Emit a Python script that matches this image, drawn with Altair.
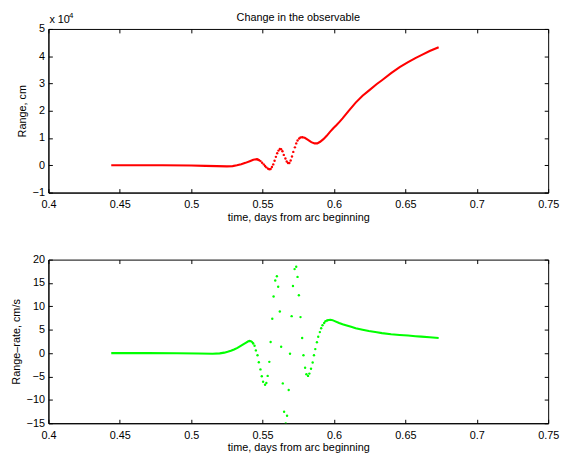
import altair as alt
import pandas as pd

FONT = "Liberation Sans"

TITLE = "Change in the observable"
X_TITLE = "time, days from arc beginning"
TOP_Y_TITLE = "Range, cm"
BOT_Y_TITLE = "Range\u2013rate, cm/s"
EXP_BASE = "x 10"
EXP_POWER = "4"

X_TICKS = [0.4, 0.45, 0.5, 0.55, 0.6, 0.65, 0.7, 0.75]
TOP_Y_TICKS = [-1, 0, 1, 2, 3, 4, 5]
BOT_Y_TICKS = [-15, -10, -5, 0, 5, 10, 15, 20]

# ---- Range (units of 10^4 cm) ----
TOP_PRE_T = [0.4440, 0.4600, 0.4800, 0.5000, 0.5100, 0.5180, 0.5250, 0.5290, 0.5320, 0.5350,
             0.5380, 0.5410, 0.5435, 0.5458, 0.54667]
TOP_PRE_V = [0.00, 0.00, 0.00, -0.01, -0.02, -0.03, -0.04, -0.03, 0.00, 0.04,
             0.09, 0.15, 0.20, 0.226, 0.214]

TOP_DOT_T = [0.54667, 0.54759, 0.54851, 0.54966, 0.55080, 0.55172, 0.55264, 0.55379, 0.55471, 0.55563,
             0.55655, 0.55747, 0.55839, 0.55931, 0.56023, 0.56115, 0.56207, 0.56299, 0.56391, 0.56483,
             0.56598, 0.56690, 0.56782, 0.56874, 0.56966, 0.57058, 0.57150, 0.57264, 0.57356, 0.57448,
             0.57563, 0.57655, 0.57770]
TOP_DOT_V = [0.214, 0.190, 0.154, 0.094, 0.034, -0.026, -0.075, -0.123, -0.147, -0.135,
             -0.062, 0.034, 0.166, 0.310, 0.442, 0.539, 0.599, 0.587, 0.515, 0.382,
             0.250, 0.142, 0.082, 0.082, 0.178, 0.322, 0.491, 0.659, 0.803, 0.912,
             0.984, 1.020, 1.032]

TOP_POST_T = [0.57770, 0.5795, 0.5818, 0.5841, 0.5864, 0.5883, 0.5903, 0.5926, 0.5949, 0.5972,
              0.5995, 0.6018, 0.6037, 0.6060, 0.6100, 0.6152, 0.6200, 0.6244, 0.6300, 0.6336,
              0.6400, 0.6460, 0.6519, 0.6570, 0.6612, 0.6670, 0.6733]
TOP_POST_V = [1.032, 1.008, 0.936, 0.851, 0.803, 0.803, 0.863, 0.960, 1.080, 1.224,
              1.356, 1.477, 1.585, 1.72, 1.98, 2.30, 2.55, 2.74, 2.98, 3.12,
              3.38, 3.60, 3.78, 3.93, 4.04, 4.19, 4.33]

# ---- Range-rate (cm/s) ----
BOT_PRE_T = [0.4440, 0.4700, 0.4900, 0.5050, 0.5150, 0.5200, 0.5232, 0.5255, 0.5278, 0.5300,
             0.5324, 0.5347, 0.5370, 0.5385, 0.5397, 0.5408, 0.5418, 0.5426, 0.54345]
BOT_PRE_V = [0.00, 0.00, -0.04, -0.10, -0.12, -0.06, 0.10, 0.28, 0.50, 0.78,
             1.13, 1.55, 1.97, 2.25, 2.48, 2.62, 2.56, 2.38, 2.05]

BOT_DOT_T = [0.54345, 0.54437, 0.54529, 0.54644, 0.54736, 0.54851, 0.54943, 0.55034, 0.55172, 0.55264,
             0.55356, 0.55471, 0.55563, 0.55678, 0.55770, 0.55885, 0.56000, 0.56092, 0.56207, 0.56299,
             0.56414, 0.56506, 0.56621, 0.56713, 0.56828, 0.56920, 0.57034, 0.57126, 0.57241, 0.57356,
             0.57448, 0.57540, 0.57655, 0.57770, 0.57862, 0.57977, 0.58069, 0.58184, 0.58276, 0.58391,
             0.58506, 0.58598, 0.58690, 0.58805, 0.58897, 0.59011, 0.59103, 0.59195, 0.59310, 0.59402,
             0.59517]
BOT_DOT_V = [2.05, 1.56, 0.58, -0.47, -1.94, -3.48, -4.94, -6.13, -6.76, -6.41,
             -4.87, -1.87, 2.39, 7.35, 12.10, 15.53, 16.44, 14.20, 8.89, 1.35,
             -6.48, -12.56, -15.07, -13.40, -7.88, -0.12, 7.91, 14.34, 17.97, 18.46,
             16.30, 12.38, 7.70, 3.23, -0.47, -3.13, -4.52, -4.87, -4.38, -3.34,
             -2.01, -0.47, 0.86, 2.32, 3.51, 4.49, 5.33, 5.96, 6.45, 6.80,
             7.00]

BOT_POST_T = [0.59517, 0.5962, 0.5975, 0.5990, 0.6005, 0.6036, 0.6060, 0.6083, 0.6120, 0.6152,
              0.6200, 0.6244, 0.6300, 0.6336, 0.6400, 0.6460, 0.6519, 0.6570, 0.6612, 0.6670,
              0.6733]
BOT_POST_V = [7.00, 7.08, 7.12, 7.05, 6.85, 6.45, 6.17, 5.96, 5.62, 5.32,
              5.00, 4.72, 4.45, 4.28, 4.05, 3.88, 3.75, 3.62, 3.52, 3.38,
              3.25]


def frame(parts):
    rows = []
    for name, ts, vs in parts:
        for t, v in zip(ts, vs):
            rows.append({"t": t, "v": v, "part": name})
    return pd.DataFrame(rows)


top_df = frame([("pre", TOP_PRE_T, TOP_PRE_V), ("dots", TOP_DOT_T, TOP_DOT_V), ("post", TOP_POST_T, TOP_POST_V)])
bot_df = frame([("pre", BOT_PRE_T, BOT_PRE_V), ("dots", BOT_DOT_T, BOT_DOT_V), ("post", BOT_POST_T, BOT_POST_V)])

W, H = 507, 166
xscale = alt.Scale(domain=[0.4, 0.75], nice=False, zero=False)


def tick_axis(orient, values):
    return alt.Axis(orient=orient, values=values, offset=-4, tickSize=4, ticks=True,
                    tickColor="black", tickWidth=1, labels=False, domain=False,
                    grid=False, title=None)


def panel(df, ydomain, yticks, ytitle, color):
    yscale = alt.Scale(domain=ydomain, nice=False, zero=False)
    main_x = alt.Axis(orient="bottom", values=X_TICKS, format=".2~f", ticks=False, tickSize=0,
                      grid=False, domain=True, domainColor="black", domainWidth=1,
                      labelPadding=6, labelFontSize=11, labelColor="black", labelFont=FONT,
                      labelFlush=False, labelOverlap=False,
                      title=X_TITLE, titleFontSize=11, titleFontWeight="normal",
                      titleColor="black", titleFont=FONT, titlePadding=2)
    main_y = alt.Axis(orient="left", values=yticks, format="d", ticks=False, tickSize=0,
                      grid=False, domain=True, domainColor="black", domainWidth=1,
                      labelPadding=4, labelFontSize=11, labelColor="black", labelFont=FONT,
                      labelFlush=False, labelOverlap=False,
                      title=ytitle, titleFontSize=11, titleFontWeight="normal",
                      titleColor="black", titleFont=FONT, titlePadding=5)
    base = alt.Chart(df)
    line = base.transform_filter(alt.datum.part != "dots").mark_line(
        color=color, strokeWidth=2.1).encode(
        x=alt.X("t:Q", scale=xscale, axis=main_x),
        y=alt.Y("v:Q", scale=yscale, axis=main_y),
        detail="part:N")
    dots = base.transform_filter(alt.datum.part == "dots").mark_circle(
        color=color, size=6, opacity=1, clip=True).encode(
        x=alt.X("t:Q", scale=xscale, axis=None),
        y=alt.Y("v:Q", scale=yscale, axis=None))
    ticks_bl = base.mark_point(opacity=0).encode(
        x=alt.X("t:Q", scale=xscale, axis=tick_axis("bottom", X_TICKS)),
        y=alt.Y("v:Q", scale=yscale, axis=tick_axis("left", yticks)))
    ticks_tr = base.mark_point(opacity=0).encode(
        x=alt.X("t:Q", scale=xscale, axis=tick_axis("top", X_TICKS)),
        y=alt.Y("v:Q", scale=yscale, axis=tick_axis("right", yticks)))
    return [line, dots, ticks_bl, ticks_tr]


top_layers = panel(top_df, [-1, 5], TOP_Y_TICKS, TOP_Y_TITLE, "#ff0000")
exp_base = alt.Chart(pd.DataFrame({"s": [EXP_BASE]})).mark_text(
    align="left", baseline="alphabetic", fontSize=11, font=FONT, color="black").encode(
    x=alt.value(1), y=alt.value(-6), text="s:N")
exp_pow = alt.Chart(pd.DataFrame({"s": [EXP_POWER]})).mark_text(
    align="left", baseline="alphabetic", fontSize=8, font=FONT, color="black").encode(
    x=alt.value(21), y=alt.value(-11), text="s:N")

top = alt.layer(*top_layers, exp_base, exp_pow).resolve_axis(
    x="independent", y="independent").properties(
    width=W, height=H,
    title=alt.TitleParams(TITLE, fontSize=11, fontWeight="normal", font=FONT, color="black",
                          anchor="middle", frame="group", offset=-11))

bot_layers = panel(bot_df, [-15, 20], BOT_Y_TICKS, BOT_Y_TITLE, "#00ff00")
bottom = alt.layer(*bot_layers).resolve_axis(
    x="independent", y="independent").properties(width=W, height=H)

chart = alt.vconcat(top, bottom, spacing=30).properties(
    padding={"left": 1, "top": 0, "right": 0, "bottom": 0}
).configure(font=FONT).configure_view(stroke="black", strokeWidth=1)

chart.save("out.html", embed_options={"renderer": "svg", "actions": False})
